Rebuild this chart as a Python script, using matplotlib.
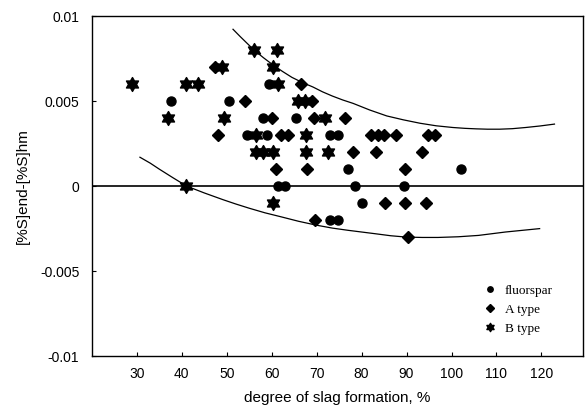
import numpy as np
import matplotlib
matplotlib.use("Agg")
import matplotlib.pyplot as plt
from matplotlib.path import Path

# fluorspar
flu_x = [37.5, 50.5, 54.5, 58.9, 59.3, 58.0, 65.5, 73.0, 74.8, 77.0, 102.0,
         61.5, 63.0, 78.5, 89.5, 80.0, 73.0, 74.8]
flu_y = [0.005, 0.005, 0.003, 0.003, 0.006, 0.004, 0.004, 0.003, 0.003, 0.001, 0.001,
         0.0, 0.0, 0.0, 0.0, -0.001, -0.002, -0.002]

# A type
a_x = [47.5, 54.0, 66.5, 69.0, 60.0, 69.5, 76.3, 48.0, 62.0, 63.6, 82.2, 83.7, 85.0, 87.6,
       94.8, 96.3, 78.1, 83.3, 93.5, 60.9, 67.8, 89.6, 85.3, 89.6, 94.4, 69.6, 90.4]
a_y = [0.007, 0.005, 0.006, 0.005, 0.004, 0.004, 0.004, 0.003, 0.003, 0.003, 0.003, 0.003, 0.003, 0.003,
       0.003, 0.003, 0.002, 0.002, 0.002, 0.001, 0.001, 0.001, -0.001, -0.001, -0.001, -0.002, -0.003]

# B type
b_x = [28.9, 36.9, 41.0, 43.7, 41.0, 49.0, 49.5, 56.1, 61.1, 60.4, 61.5, 65.8, 67.3, 71.8,
       56.5, 67.6, 56.5, 58.1, 60.4, 67.6, 72.5, 60.4]
b_y = [0.006, 0.004, 0.006, 0.006, 0.0, 0.007, 0.004, 0.008, 0.008, 0.007, 0.006, 0.005, 0.005, 0.004,
       0.003, 0.003, 0.002, 0.002, 0.002, 0.002, 0.002, -0.001]

# boundary curves
up_x = [51.4, 53.0, 56.1, 58.2, 60.3, 62.4, 64.5, 66.8, 69.2, 71.3, 73.5, 75.8, 78.1, 81.8,
        85.6, 89.3, 93.0, 96.6, 100.3, 103.0, 105.5, 108.0, 110.7, 113.5, 116.5, 119.7, 122.9]
up_y = [0.00923, 0.0088, 0.0080, 0.00755, 0.00713, 0.00675, 0.0064, 0.0061, 0.00583, 0.00555,
        0.0053, 0.00507, 0.00487, 0.00448, 0.00413, 0.0039, 0.0037, 0.00355, 0.00345, 0.0034,
        0.00337, 0.00335, 0.00335, 0.00338, 0.00345, 0.00354, 0.00365]
lo_x = [30.7, 33.0, 35.0, 38.0, 41.1, 45.0, 49.2, 52.0, 55.0, 58.5, 62.0, 66.0, 70.0, 73.5, 77.0,
        80.0, 83.0, 86.5, 90.0, 93.5, 97.0, 101.5, 106.0, 109.0, 112.0, 115.8, 119.6]
lo_y = [0.0017, 0.00135, 0.0010, 0.0005, 0.0, -0.0004, -0.0008, -0.00105, -0.0013, -0.00157,
        -0.0018, -0.00207, -0.0023, -0.00247, -0.0026, -0.0027, -0.0028, -0.00292, -0.0030,
        -0.00302, -0.00302, -0.00298, -0.0029, -0.0028, -0.0027, -0.0026, -0.0025]

# six-pointed star marker
ang = np.deg2rad(np.arange(12) * 30 + 90)
rad = np.where(np.arange(12) % 2 == 0, 1.0, 1 / np.sqrt(3))
verts = np.column_stack([rad * np.cos(ang), rad * np.sin(ang)])
verts = np.vstack([verts, verts[:1]])
hexstar = Path(verts, closed=True)

plt.rcParams['font.family'] = ['Liberation Sans', 'DejaVu Sans']

fig = plt.figure(figsize=(5.85, 4.15), dpi=100)
ax = fig.add_axes([0.157, 0.142, 0.84, 0.819])

ax.axhline(0, color='black', linewidth=1.2, zorder=1)
ax.plot(up_x, up_y, color='black', linewidth=0.9, zorder=1)
ax.plot(lo_x, lo_y, color='black', linewidth=0.9, zorder=1)

ax.plot(flu_x, flu_y, linestyle='none', marker='o', markersize=6.5, color='black', label='fluorspar')
ax.plot(a_x, a_y, linestyle='none', marker='D', markersize=6.3, color='black', label='A type')
ax.plot(b_x, b_y, linestyle='none', marker=hexstar, markersize=10, color='black', label='B type')

ax.set_xlim(20, 129.3)
ax.set_ylim(-0.01, 0.01)
ax.set_xticks([30, 40, 50, 60, 70, 80, 90, 100, 110, 120])
ax.set_yticks([-0.01, -0.005, 0, 0.005, 0.01])
ax.set_yticklabels(['-0.01', '-0.005', '0', '0.005', '0.01'])
ax.tick_params(direction='in', length=3, width=0.8, labelsize=10)
ax.tick_params(axis='y', pad=9)
ax.tick_params(axis='x', pad=8)
for s in ax.spines.values():
    s.set_linewidth(1.0)

ax.set_xlabel('degree of slag formation, %', fontsize=11, labelpad=7)
ax.set_ylabel('[%S]end-[%S]hm', fontsize=11, labelpad=7)

ax.legend(loc='upper left', bbox_to_anchor=(0.77, 0.245), frameon=False, markerscale=0.6,
          prop={'family': 'Liberation Serif', 'size': 9.5}, handletextpad=0.5,
          labelspacing=0.5, handlelength=1.2)

fig.savefig('out.png', dpi=100)
